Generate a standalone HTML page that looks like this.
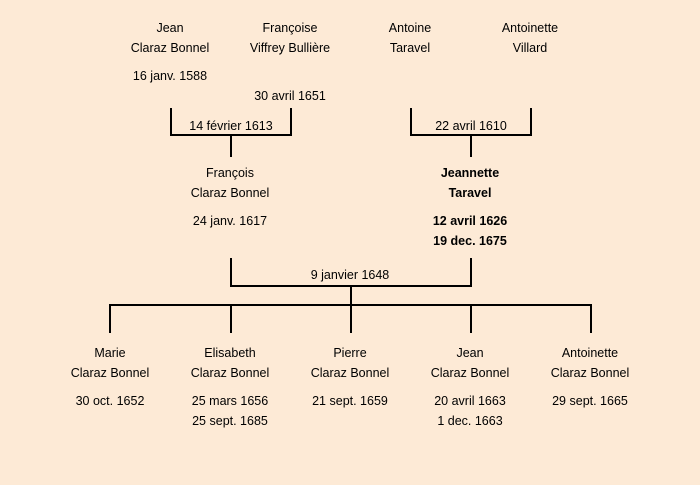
<!DOCTYPE html>
<html><head><meta charset="utf-8"><style>
body{margin:0;width:700px;height:485px;background:#fdead6;position:relative;overflow:hidden;font-family:"Comic Sans MS","Liberation Sans",sans-serif;font-size:12.5px;color:#000}
.t{position:absolute;width:160px;margin-left:-80px;text-align:center;line-height:20px;white-space:nowrap}
.b{font-weight:bold}
svg{position:absolute;left:0;top:0}
</style></head><body>
<svg width="700" height="485" stroke="#000" stroke-width="2" fill="none">
<path d="M171 108V135H291V108M231 135V157"/>
<path d="M411 108V135H531V108M471 135V157"/>
<path d="M231 258V286H471V258M351 286V305"/>
<path d="M110 333V305H591V333M231 305V333M351 305V333M471 305V333"/>
</svg>
<div class="t" style="left:170px;top:18px">Jean<br>Claraz Bonnel</div>
<div class="t" style="left:290px;top:18px">Françoise<br>Viffrey Bullière</div>
<div class="t" style="left:410px;top:18px">Antoine<br>Taravel</div>
<div class="t" style="left:530px;top:18px">Antoinette<br>Villard</div>
<div class="t" style="left:170px;top:66px">16 janv. 1588</div>
<div class="t" style="left:290px;top:86px">30 avril 1651</div>
<div class="t" style="left:231px;top:116px">14 février 1613</div>
<div class="t" style="left:471px;top:116px">22 avril 1610</div>
<div class="t" style="left:230px;top:163px">François<br>Claraz Bonnel</div>
<div class="t" style="left:230px;top:211px">24 janv. 1617</div>
<div class="t b" style="left:470px;top:163px">Jeannette<br>Taravel</div>
<div class="t b" style="left:470px;top:211px">12 avril 1626<br>19 dec. 1675</div>
<div class="t" style="left:350px;top:265px">9 janvier 1648</div>
<div class="t" style="left:110px;top:343px">Marie<br>Claraz Bonnel</div>
<div class="t" style="left:230px;top:343px">Elisabeth<br>Claraz Bonnel</div>
<div class="t" style="left:350px;top:343px">Pierre<br>Claraz Bonnel</div>
<div class="t" style="left:470px;top:343px">Jean<br>Claraz Bonnel</div>
<div class="t" style="left:590px;top:343px">Antoinette<br>Claraz Bonnel</div>
<div class="t" style="left:110px;top:391px">30 oct. 1652</div>
<div class="t" style="left:230px;top:391px">25 mars 1656<br>25 sept. 1685</div>
<div class="t" style="left:350px;top:391px">21 sept. 1659</div>
<div class="t" style="left:470px;top:391px">20 avril 1663<br>1 dec. 1663</div>
<div class="t" style="left:590px;top:391px">29 sept. 1665</div>
</body></html>
